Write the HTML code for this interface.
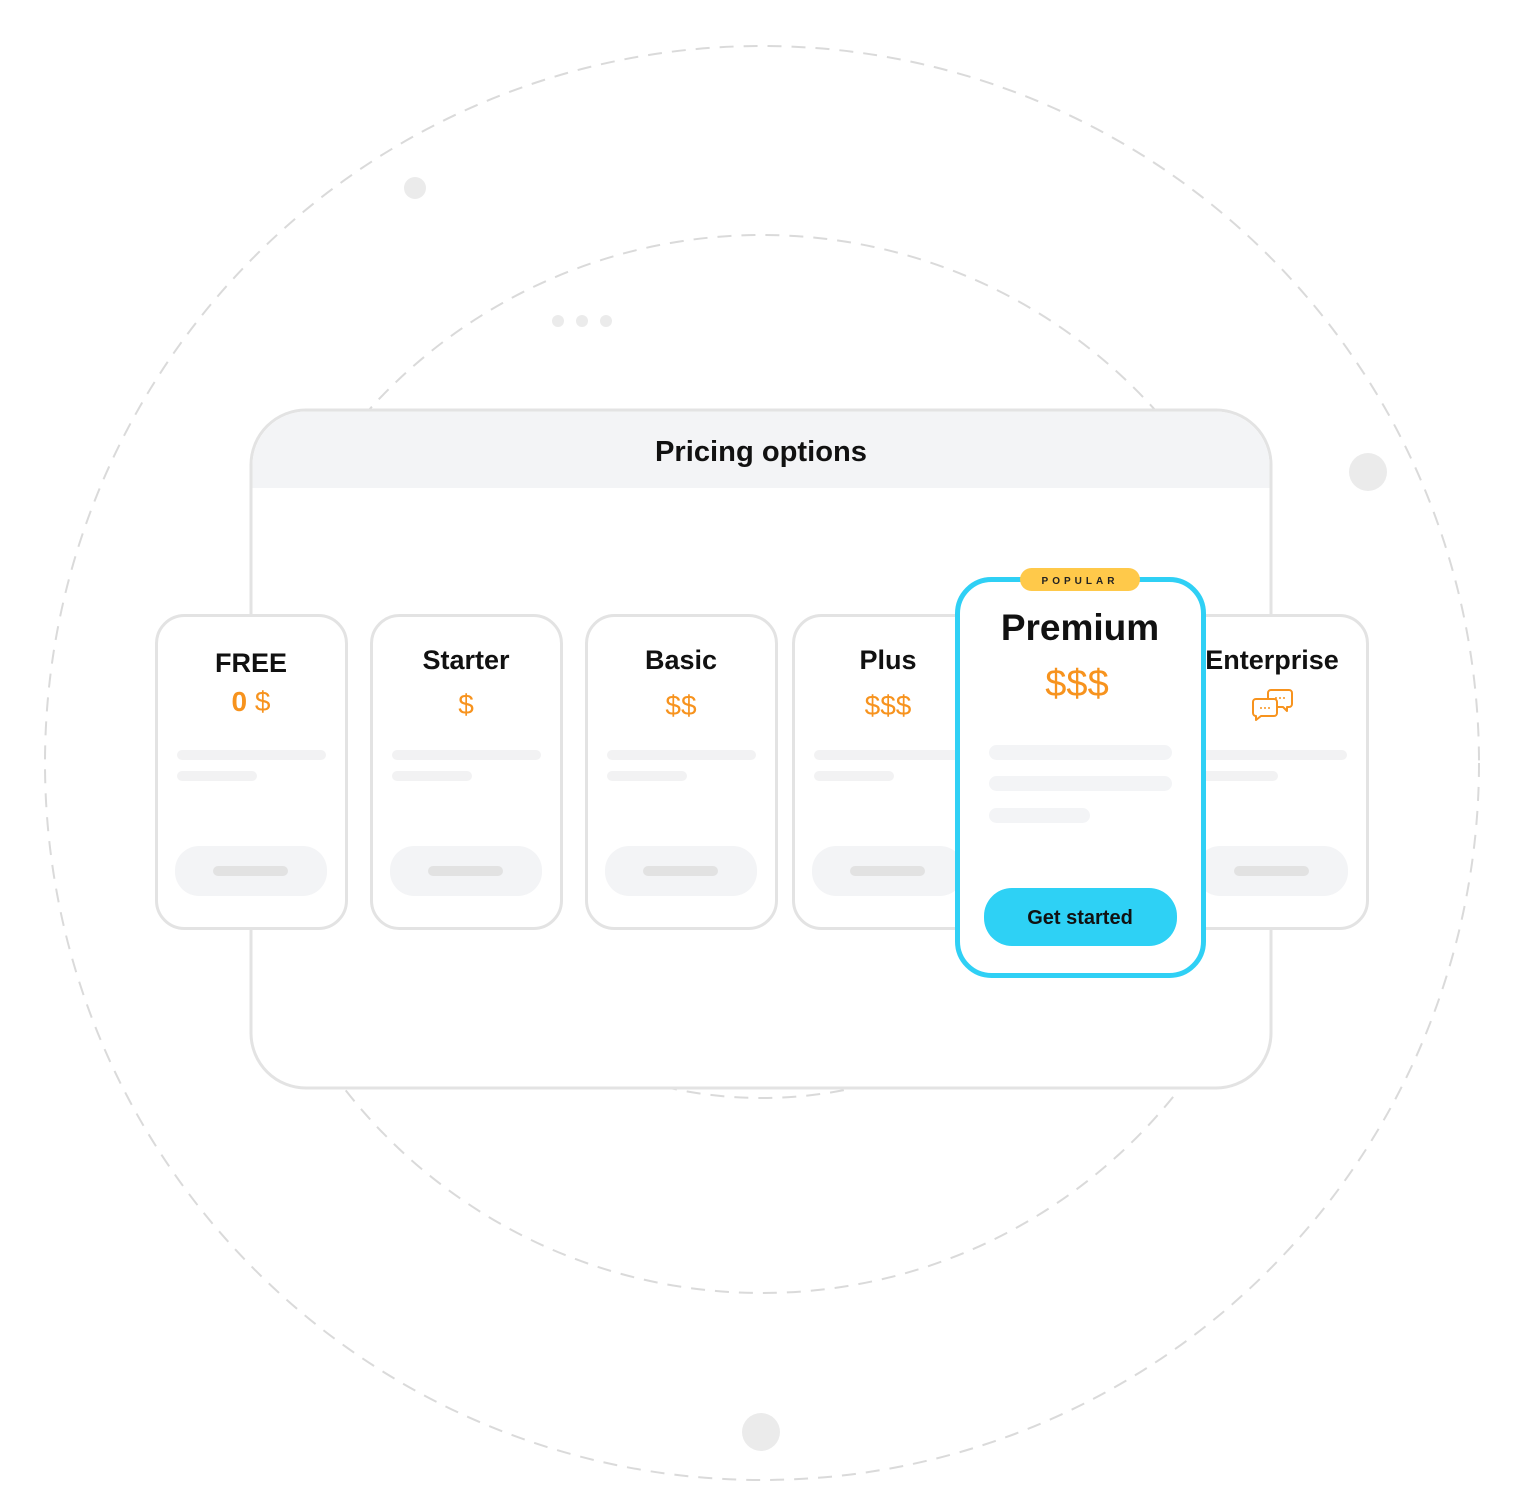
<!DOCTYPE html>
<html><head><meta charset="utf-8"><style>
html,body{margin:0;padding:0;background:#fff;}
svg{display:block;}
text{font-family:"Liberation Sans",sans-serif;}
</style></head><body>
<svg width="1525" height="1500" viewBox="0 0 1525 1500" xmlns="http://www.w3.org/2000/svg">
<g fill="none" stroke="#dadada" stroke-width="2" stroke-dasharray="14 10">
<circle cx="762" cy="763" r="717"/>
<circle cx="762" cy="764" r="529"/>
<path d="M640 1080.4 A432 432 0 0 0 884 1080.4"/>
</g>
<g fill="#ebebeb">
<circle cx="415" cy="188" r="11"/>
<circle cx="1368" cy="472" r="19"/>
<circle cx="761" cy="1432" r="19"/>
<circle cx="558" cy="321" r="6"/>
<circle cx="582" cy="321" r="6"/>
<circle cx="606" cy="321" r="6"/>
</g>
<!-- window -->
<rect x="251" y="410" width="1020" height="678" rx="55" fill="#fff" stroke="#e3e3e3" stroke-width="3"/>
<path d="M252.5 488 V466 A54 54 0 0 1 306 411.5 H1216 A54 54 0 0 1 1269.5 466 V488 Z" fill="#f3f4f6"/>
<text x="761" y="461" font-size="29" font-weight="bold" text-anchor="middle" fill="#111" textLength="212" lengthAdjust="spacingAndGlyphs">Pricing options</text>

<g transform="translate(155,614)">
<rect x="1.5" y="1.5" width="190" height="313" rx="28" fill="#fff" stroke="#e3e3e3" stroke-width="3"/>
<text x="96" y="58" font-size="27" font-weight="bold" text-anchor="middle" fill="#111">FREE</text>
<text x="96" y="97" font-size="28" text-anchor="middle" fill="#f7931e"><tspan font-weight="bold">0</tspan> $</text>
<rect x="22" y="136" width="149" height="10" rx="5" fill="#f2f2f3"/>
<rect x="22" y="157" width="80" height="10" rx="5" fill="#f2f2f3"/>
<rect x="20" y="232" width="152" height="50" rx="24" fill="#f3f4f6"/>
<rect x="58" y="252" width="75" height="10" rx="5" fill="#e2e2e2"/>
</g>
<g transform="translate(370,614)">
<rect x="1.5" y="1.5" width="190" height="313" rx="28" fill="#fff" stroke="#e3e3e3" stroke-width="3"/>
<text x="96" y="55" font-size="27" font-weight="bold" text-anchor="middle" fill="#111">Starter</text>
<text x="96" y="100" font-size="28" text-anchor="middle" fill="#f7931e">$</text>
<rect x="22" y="136" width="149" height="10" rx="5" fill="#f2f2f3"/>
<rect x="22" y="157" width="80" height="10" rx="5" fill="#f2f2f3"/>
<rect x="20" y="232" width="152" height="50" rx="24" fill="#f3f4f6"/>
<rect x="58" y="252" width="75" height="10" rx="5" fill="#e2e2e2"/>
</g>
<g transform="translate(585,614)">
<rect x="1.5" y="1.5" width="190" height="313" rx="28" fill="#fff" stroke="#e3e3e3" stroke-width="3"/>
<text x="96" y="55" font-size="27" font-weight="bold" text-anchor="middle" fill="#111">Basic</text>
<text x="96" y="101" font-size="28" text-anchor="middle" fill="#f7931e">$$</text>
<rect x="22" y="136" width="149" height="10" rx="5" fill="#f2f2f3"/>
<rect x="22" y="157" width="80" height="10" rx="5" fill="#f2f2f3"/>
<rect x="20" y="232" width="152" height="50" rx="24" fill="#f3f4f6"/>
<rect x="58" y="252" width="75" height="10" rx="5" fill="#e2e2e2"/>
</g>
<g transform="translate(792,614)">
<rect x="1.5" y="1.5" width="190" height="313" rx="28" fill="#fff" stroke="#e3e3e3" stroke-width="3"/>
<text x="96" y="55" font-size="27" font-weight="bold" text-anchor="middle" fill="#111">Plus</text>
<text x="96" y="101" font-size="28" text-anchor="middle" fill="#f7931e">$$$</text>
<rect x="22" y="136" width="149" height="10" rx="5" fill="#f2f2f3"/>
<rect x="22" y="157" width="80" height="10" rx="5" fill="#f2f2f3"/>
<rect x="20" y="232" width="152" height="50" rx="24" fill="#f3f4f6"/>
<rect x="58" y="252" width="75" height="10" rx="5" fill="#e2e2e2"/>
</g>
<g transform="translate(1176,614)">
<rect x="1.5" y="1.5" width="190" height="313" rx="28" fill="#fff" stroke="#e3e3e3" stroke-width="3"/>
<text x="96" y="55" font-size="27" font-weight="bold" text-anchor="middle" fill="#111">Enterprise</text>
<g fill="#fff" stroke="#f7931e" stroke-width="2" stroke-linejoin="round">
<path d="M95 76 h18 a3 3 0 0 1 3 3 v11 a3 3 0 0 1 -3 3 h-2 v4 l-4 -4 h-12 a3 3 0 0 1 -3 -3 v-11 a3 3 0 0 1 3 -3z"/>
<path d="M80 85 h18 a3 3 0 0 1 3 3 v11 a3 3 0 0 1 -3 3 h-13 l-5 4 v-4 a3 3 0 0 1 -3 -3 v-11 a3 3 0 0 1 3 -3z"/>
</g>
<g fill="#f7931e"><circle cx="85" cy="94" r="1"/><circle cx="89" cy="94" r="1"/><circle cx="93" cy="94" r="1"/><circle cx="100" cy="84" r="1"/><circle cx="104" cy="84" r="1"/><circle cx="108" cy="84" r="1"/></g>
<rect x="22" y="136" width="149" height="10" rx="5" fill="#f2f2f3"/>
<rect x="22" y="157" width="80" height="10" rx="5" fill="#f2f2f3"/>
<rect x="20" y="232" width="152" height="50" rx="24" fill="#f3f4f6"/>
<rect x="58" y="252" width="75" height="10" rx="5" fill="#e2e2e2"/>
</g>

<rect x="957.5" y="579.5" width="246" height="396" rx="34" fill="#fff" stroke="#2fd0f5" stroke-width="5"/>
<rect x="1020" y="568" width="120" height="23" rx="11.5" fill="#ffc94a"/>
<text x="1080" y="584" font-size="10" font-weight="bold" text-anchor="middle" fill="#222" letter-spacing="4">POPULAR</text>
<text x="1080" y="640" font-size="37" font-weight="bold" text-anchor="middle" fill="#111">Premium</text>
<text x="1077" y="696" font-size="38" text-anchor="middle" fill="#f7931e">$$$</text>
<rect x="989" y="745" width="183" height="15" rx="7.5" fill="#f3f4f6"/>
<rect x="989" y="776" width="183" height="15" rx="7.5" fill="#f3f4f6"/>
<rect x="989" y="808" width="101" height="15" rx="7.5" fill="#f3f4f6"/>
<rect x="984" y="888" width="193" height="58" rx="28" fill="#2ed1f5"/>
<text x="1080" y="924" font-size="20" font-weight="bold" text-anchor="middle" fill="#111">Get started</text>
</svg>
</body></html>
